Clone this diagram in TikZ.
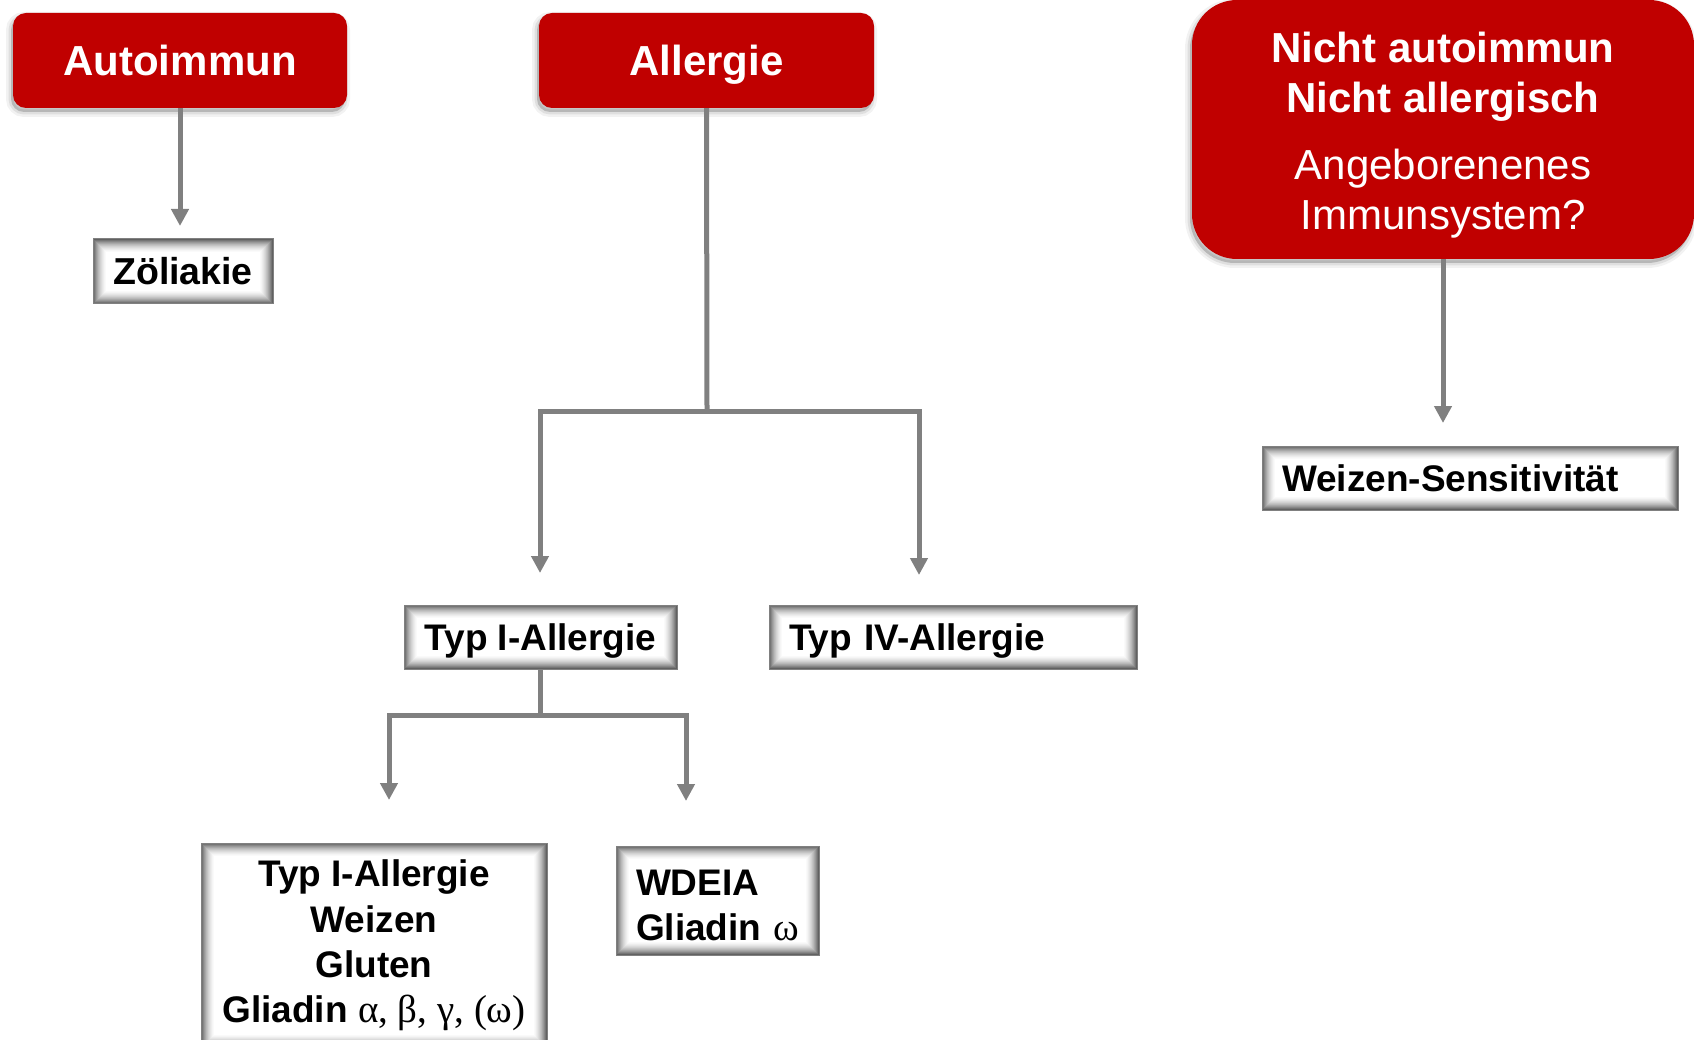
\documentclass[tikz,border=0pt]{standalone}
\usepackage{fontspec}
\setmainfont{Liberation Sans}
\newfontfamily\grk{Liberation Serif}
\usetikzlibrary{arrows.meta,calc}
\definecolor{boxred}{RGB}{192,0,0}
\definecolor{conngray}{RGB}{128,128,128}
\tikzset{
  shadowlayers/.style={
    preaction={fill=black, opacity=0.18, transform canvas={xshift=-2pt,yshift=-4pt}},
    preaction={draw=black, line width=5pt, opacity=0.08, transform canvas={xshift=-2pt,yshift=-4pt}},
    preaction={draw=black, line width=10pt, opacity=0.05, transform canvas={xshift=-2pt,yshift=-4pt}}
  },
  redbox/.style={shadowlayers, fill=boxred, rounded corners=13pt, text=white,
    font=\fontsize{42}{50}\selectfont\bfseries},
  greybox/.style={draw=conngray, line width=1pt, fill=white,
    font=\fontsize{37}{45}\selectfont\bfseries,
    path picture={
      \foreach \d/\c in {0/62,1/54,2/47,3/40,4/34,5/28,6/23,7/18,8/14,9/10,10/7,11/4,12/2,13/0}{
        \fill[black!\c] ($(path picture bounding box.north west)+(\d pt,-\d pt)$)
          rectangle ($(path picture bounding box.south east)+(-\d pt,\d pt)$);
      }
    }},
  conn/.style={draw=conngray, line width=5pt},
  arr/.style={conn, -{Triangle[width=17pt,length=17pt]}}
}
\begin{document}
\begin{tikzpicture}[x=1pt,y=-1pt]
\useasboundingbox (0,0) rectangle (1694,1040);

% red header boxes
\node[redbox, minimum width=334pt, minimum height=95pt, text height=30pt, text depth=0pt] (auto) at (180,60.5) {Autoimmun};
\node[redbox, minimum width=335pt, minimum height=95pt, text height=30pt, text depth=0pt] (allerg) at (706.5,60.5) {Allergie};
\node[redbox, rounded corners=45pt, minimum width=502pt, minimum height=259pt, align=center] (nicht) at (1443,129.5)
  {\rule{0pt}{41pt}Nicht autoimmun\\Nicht allergisch\\[17pt]\mdseries Angeborenenes\\\mdseries Immunsystem?};

% grey boxes
\node[greybox, font=\fontsize{37.5}{45}\selectfont\bfseries, minimum width=180pt, minimum height=65pt, text height=27pt, text depth=0pt] (zol) at (183,271.5) {Zöliakie};
\node[greybox, minimum width=273pt, minimum height=64pt, text height=26pt, text depth=0pt] (typ1) at (540.5,637) {Typ I-Allergie};
\node[greybox, inner xsep=20pt, text width=328pt, align=left, minimum height=64pt, text height=26pt, text depth=0pt] (typ4) at (953,637) {Typ IV-Allergie};
\node[greybox, inner xsep=20pt, text width=376pt, align=left, minimum height=64pt, text height=26pt, text depth=0pt] (ws) at (1470,478) {Weizen-Sensitivität};
\node[greybox, font=\fontsize{37}{45.3}\selectfont\bfseries, minimum width=346pt, minimum height=205pt, align=center] (big) at (374,945.5)
  {Typ I-Allergie\\Weizen\\Gluten\\Gliadin {\grk\mdseries\fontsize{39}{45.3}\selectfont α, β, γ, (ω)}};
\node[greybox, inner xsep=20pt, text width=163pt, align=left, minimum height=109pt] (wdeia) at (717.5,900.5)
  {\rule{0pt}{36pt}WDEIA\\\mbox{Gliadin {\grk\mdseries\fontsize{39}{45}\selectfont ω}}};

% connector points
\coordinate (t0) at (180,226);
\coordinate (b1) at (707,411);
\coordinate (t1) at (540,573);
\coordinate (t2) at (919,575);
\coordinate (b2) at (540,715);
\coordinate (t3) at (389,800);
\coordinate (t4) at (686,801);
\coordinate (t5) at (1443,423);

\draw[arr] (auto.south) -- (t0);
\draw[conn] (allerg.south) -- (b1);
\draw[arr] (b1) -| (t1);
\draw[arr] (b1) -| (t2);
\draw[conn] (typ1.south -| b2) -- (b2);
\draw[arr] (b2) -| (t3);
\draw[arr] (b2) -| (t4);
\draw[arr] (nicht.south) -- (t5);
\end{tikzpicture}
\end{document}
